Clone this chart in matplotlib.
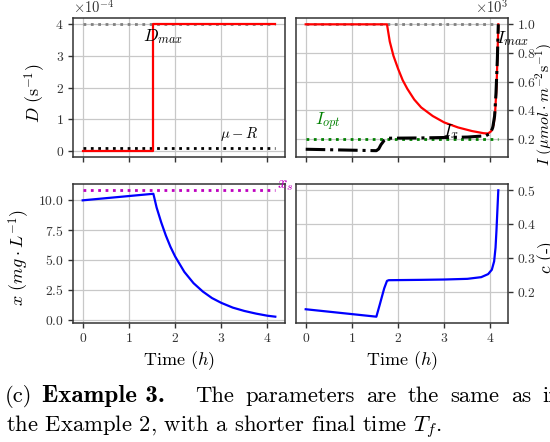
import matplotlib
matplotlib.use("Agg")
import matplotlib.pyplot as plt
import numpy as np

plt.rcParams['font.family'] = ['cmr10', 'DejaVu Serif']
plt.rcParams['mathtext.fontset'] = 'cm'
plt.rcParams['axes.formatter.use_mathtext'] = True
plt.rcParams['axes.unicode_minus'] = True

# ---------------- data ----------------
t_end = 4.17
# dilution rate D (s^-1)
D_t = [0.0, 1.53, 1.53, 4.17]
D_v = [0.0, 0.0, 4e-4, 4e-4]
D_max = 4e-4
mu_R = 0.1e-4
D_ticks = [0, 1e-4, 2e-4, 3e-4, 4e-4]

# light intensity (umol m^-2 s^-1)
Ix_t = [0.0, 1.76, 1.82, 1.9, 2.0, 2.1, 2.2, 2.35, 2.5, 2.75, 3.0, 3.3, 3.6,
        3.85, 3.95, 4.02, 4.07, 4.1, 4.13, 4.15, 4.17]
Ix_v = [1000, 1000, 880, 780, 690, 610, 550, 475, 420, 360, 315, 280, 255,
        240, 238, 255, 300, 380, 550, 750, 1000]
Is_t = [0.0, 1.53, 1.58, 1.63, 1.7, 1.78, 2.5, 3.0, 3.5, 3.9, 4.0, 4.05,
        4.09, 4.12, 4.15, 4.17]
Is_v = [128, 118, 130, 160, 190, 205, 207, 210, 213, 222, 240, 280,
        360, 520, 760, 1000]
I_max = 1000
I_opt = 200
I_ticks = [200, 400, 600, 800, 1000]

# biomass x (mg L^-1)
x_t = [0.0, 1.53, 1.6, 1.7, 1.8, 1.9, 2.0, 2.2, 2.4, 2.6, 2.8, 3.0, 3.25,
       3.5, 3.75, 4.0, 4.17]
x_v = [10.0, 10.55, 9.4, 8.15, 7.05, 6.1, 5.3, 4.0, 3.05, 2.35, 1.8, 1.4, 1.0,
       0.72, 0.5, 0.32, 0.24]
x_s = 10.84
x_ticks = [0.0, 2.5, 5.0, 7.5, 10.0]

# c (-)
c_t = [0.0, 1.53, 1.6, 1.7, 1.76, 1.8, 2.5, 3.0, 3.5, 3.8, 3.95, 4.03, 4.08,
       4.11, 4.13, 4.15, 4.17]
c_v = [0.148, 0.126, 0.16, 0.21, 0.232, 0.234, 0.235, 0.236, 0.238, 0.243,
       0.252, 0.265, 0.29, 0.33, 0.38, 0.44, 0.5]
c_ticks = [0.2, 0.3, 0.4, 0.5]

t_ticks = [0, 1, 2, 3, 4]

# ---------------- figure ----------------
fig = plt.figure(figsize=(5.5, 4.42), dpi=100)
W, H = 550, 442

def ax_at(l, t, r, b):
    return fig.add_axes([l / W, 1 - b / H, (r - l) / W, (b - t) / H])

ax1 = ax_at(73, 18, 285, 157)
ax2 = ax_at(296, 18, 508, 157)
ax3 = ax_at(73, 184, 285, 323)
ax4 = ax_at(296, 184, 508, 323)

dark = '#333333'
for ax in (ax1, ax2, ax3, ax4):
    ax.grid(True, color='#c8c8c8', lw=0.9)
    ax.set_axisbelow(True)
    for s in ax.spines.values():
        s.set_color(dark)
        s.set_linewidth(1.1)
    ax.tick_params(colors=dark, labelsize=9.8, length=3.8, width=1.0, pad=2.8)
    ax.set_xticks(t_ticks)

# D panel
ax1.plot([0, t_end], [D_max, D_max], ls=':', color='gray', lw=2)
ax1.plot([0, t_end], [mu_R, mu_R], ls=':', color='black', lw=2)
ax1.plot(D_t, D_v, color='red', lw=1.6)
ax1.set_yticks(D_ticks)
ax1.ticklabel_format(style='sci', axis='y', scilimits=(0, 0))
ax1.yaxis.get_offset_text().set_fontsize(10.5)
ax1.set_ylabel(r'$D\ (\mathrm{s}^{-1})$', fontsize=13)
ax1.yaxis.set_label_coords(-0.118, 0.46)
ax1.text(1.73, 3.6e-4, r'$D_{max}$', fontsize=12.5, ha='center', va='center')
ax1.text(3.38, 0.52e-4, r'$\mu-R$', fontsize=10.5, ha='center', va='center')
ax1.tick_params(labelbottom=False)

# I panel
ax2.plot([0, t_end], [I_max, I_max], ls=':', color='gray', lw=2)
ax2.plot([0, t_end], [I_opt, I_opt], ls=':', color='green', lw=2)
ax2.plot(Ix_t, Ix_v, color='red', lw=1.6)
ax2.plot(Is_t, Is_v, ls='-.', color='black', lw=2.2)
ax2.yaxis.tick_right()
ax2.yaxis.set_label_position('right')
ax2.set_yticks(I_ticks)
ax2.ticklabel_format(style='sci', axis='y', scilimits=(0, 0))
ax2.yaxis.get_offset_text().set_fontsize(10.5)
ax2.set_ylabel(r'$I\ (\mu mol\cdot m^{-2}\mathrm{s}^{-1})$', fontsize=11.5)
ax2.yaxis.set_label_coords(1.122, 0.38)
ax2.text(0.47, 322, r'$I_{opt}$', fontsize=12.5, color='green', ha='center', va='center')
ax2.text(3.14, 255, r'$I_x$', fontsize=12.5, ha='center', va='center')
ax2.text(4.47, 903, r'$I_{max}$', fontsize=12.5, ha='center', va='center')
ax2.tick_params(labelbottom=False)

# x panel
ax3.plot([0, t_end], [x_s, x_s], ls=':', color='m', lw=2)
ax3.plot(x_t, x_v, color='blue', lw=1.6)
ax3.set_yticks(x_ticks)
ax3.set_ylabel(r'$x\ (mg\cdot L^{-1})$', fontsize=13)
ax3.yaxis.set_label_coords(-0.193, 0.47)
ax3.set_xlabel(r'Time $(h)$', fontsize=13)
ax3.xaxis.set_label_coords(0.5, -0.19)
ax3.text(4.39, 11.23, r'$x_s$', fontsize=12, color='m', ha='center', va='center')

# c panel
ax4.plot(c_t, c_v, color='blue', lw=1.6)
ax4.yaxis.tick_right()
ax4.yaxis.set_label_position('right')
ax4.set_yticks(c_ticks)
ax4.set_ylabel(r'$c$ (-)', fontsize=12.5)
ax4.yaxis.set_label_coords(1.13, 0.47)
ax4.set_xlabel(r'Time $(h)$', fontsize=13)
ax4.xaxis.set_label_coords(0.5, -0.19)

for ax in (ax1, ax2, ax3, ax4):
    ax.set_xlim(-0.21, 4.38)

# caption (line 1 is justified: words spread to reach the right edge)
cap_fs = 16.3
renderer = fig.canvas.get_renderer()
y1 = 1 - 402 / H
fig.text(5 / W, y1, '(c)', fontsize=cap_fs, ha='left', va='baseline')
fig.text(42 / W, y1, 'Example 3.', fontsize=18, ha='left', va='baseline',
         family='cmb10')
words = ['The', 'parameters', 'are', 'the', 'same', 'as', 'in']
widths = []
for w in words:
    tt = fig.text(0, 0, w, fontsize=cap_fs)
    widths.append(tt.get_window_extent(renderer).width)
    tt.remove()
x_start, last_i_end = 195.0, 549.0
i_tt = fig.text(0, 0, 'i', fontsize=cap_fs)
i_w = i_tt.get_window_extent(renderer).width
i_tt.remove()
last_start = last_i_end - i_w
gap = (last_start - x_start - sum(widths[:-1])) / (len(words) - 1)
xpos = x_start
for w, wd in zip(words, widths):
    fig.text(xpos / W, y1, w, fontsize=cap_fs, ha='left', va='baseline')
    xpos += wd + gap
fig.text(6 / W, 1 - 432 / H,
         r'the Example 2, with a shorter final time $T_f$.',
         fontsize=cap_fs, ha='left', va='baseline')

fig.savefig('out.png', dpi=100)
